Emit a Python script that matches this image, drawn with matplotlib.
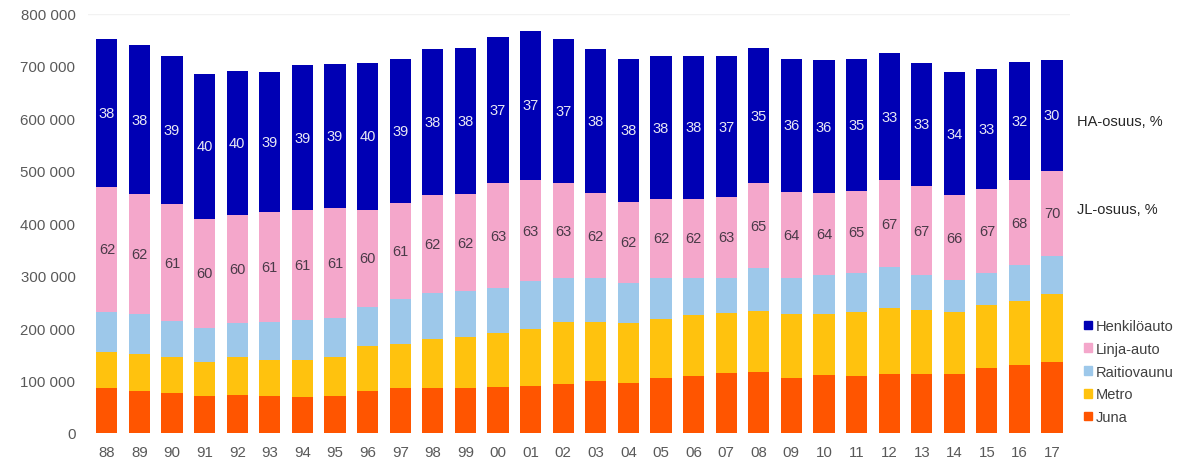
import matplotlib
matplotlib.use('Agg')
import matplotlib.pyplot as plt
from matplotlib.ticker import FuncFormatter
from matplotlib.patches import Patch

plt.rcParams['font.family'] = ['Liberation Sans', 'DejaVu Sans']

years = ['88', '89', '90', '91', '92', '93', '94', '95', '96', '97',
         '98', '99', '00', '01', '02', '03', '04', '05', '06', '07',
         '08', '09', '10', '11', '12', '13', '14', '15', '16', '17']

juna = [85, 80, 77, 71, 73, 71, 69, 71, 80, 85,
        86, 86, 88, 90, 94, 99, 95, 104, 108, 114,
        116, 105, 110, 108, 113, 113, 113, 124, 129, 135]
metro = [70, 70, 68, 64, 71, 69, 70, 73, 85, 85,
         94, 97, 102, 109, 117, 112, 115, 114, 117, 115,
         116, 121, 116, 122, 126, 121, 118, 120, 122, 130]
raitiovaunu = [76, 76, 68, 66, 66, 71, 77, 76, 76, 86,
               87, 87, 87, 90, 85, 85, 76, 78, 71, 67,
               83, 70, 76, 76, 78, 67, 60, 62, 69, 73]
linja_auto = [238, 229, 223, 207, 205, 210, 210, 209, 185, 182,
              187, 186, 199, 194, 180, 161, 155, 151, 151, 154,
              161, 163, 155, 156, 165, 170, 163, 160, 162, 162]
henkiloauto = [282, 285, 282, 277, 276, 267, 275, 274, 279, 276,
               278, 278, 280, 284, 275, 275, 273, 271, 272, 269,
               258, 255, 254, 252, 243, 235, 234, 228, 225, 211]

ha_osuus = [38, 38, 39, 40, 40, 39, 39, 39, 40, 39,
            38, 38, 37, 37, 37, 38, 38, 38, 38, 37,
            35, 36, 36, 35, 33, 33, 34, 33, 32, 30]
jl_osuus = [62, 62, 61, 60, 60, 61, 61, 61, 60, 61,
            62, 62, 63, 63, 63, 62, 62, 62, 62, 63,
            65, 64, 64, 65, 67, 67, 66, 67, 68, 70]

series = [('Juna', juna, '#FF5500'),
          ('Metro', metro, '#FFC20E'),
          ('Raitiovaunu', raitiovaunu, '#9DC8EA'),
          ('Linja-auto', linja_auto, '#F4A7CB'),
          ('Henkilöauto', henkiloauto, '#0000B4')]

W, H = 1192, 460
fig = plt.figure(figsize=(W / 100, H / 100), dpi=100)
ax = fig.add_axes([88 / W, 26 / H, (1070 - 88) / W, (434 - 14.5) / H])

x = list(range(len(years)))
bottom = [0] * len(years)
tops = {}
for name, vals, color in series:
    v = [a * 1000 for a in vals]
    ax.bar(x, v, width=0.65, bottom=bottom, color=color, linewidth=0)
    tops[name] = (list(bottom), v)
    bottom = [b + c for b, c in zip(bottom, v)]

# share labels
b_ha, v_ha = tops['Henkilöauto']
b_la, v_la = tops['Linja-auto']
for i in x:
    ax.text(i, b_ha[i] + v_ha[i] / 2, str(ha_osuus[i]), ha='center', va='center',
            fontsize=10.5, color='#E8E8F4')
    ax.text(i, b_la[i] + v_la[i] / 2, str(jl_osuus[i]), ha='center', va='center',
            fontsize=10.5, color='#4A3A48')

ax.set_xlim(-0.58, 29.55)
ax.set_ylim(0, 800000)
ax.set_yticks(range(0, 800001, 100000))
ax.yaxis.set_major_formatter(FuncFormatter(lambda v, p: f'{int(v):,}'.replace(',', ' ')))
ax.set_xticks(x)
ax.set_xticklabels(years)
ax.tick_params(axis='both', length=0, labelsize=10.8, colors='#595959')
ax.tick_params(axis='y', pad=9)
ax.tick_params(axis='x', pad=9)
ax.axhline(800000, color='#F2F2F2', linewidth=1, zorder=0)
for s in ax.spines.values():
    s.set_visible(False)

fig.text(1077 / W, 1 - 122 / H, 'HA-osuus, %', fontsize=10.5, color='#262626', va='center')
fig.text(1077 / W, 1 - 210 / H, 'JL-osuus, %', fontsize=10.5, color='#262626', va='center')

handles = [Patch(color=c, label=n) for n, _, c in reversed(series)]
fig.legend(handles=handles, loc='upper left', bbox_to_anchor=(1071 / W, 1 - 307 / H),
           frameon=False, fontsize=10.5, handlelength=0.55, handleheight=0.55,
           handletextpad=0.25, labelspacing=0.6, labelcolor='#404040')

fig.savefig('out.png', dpi=100)
